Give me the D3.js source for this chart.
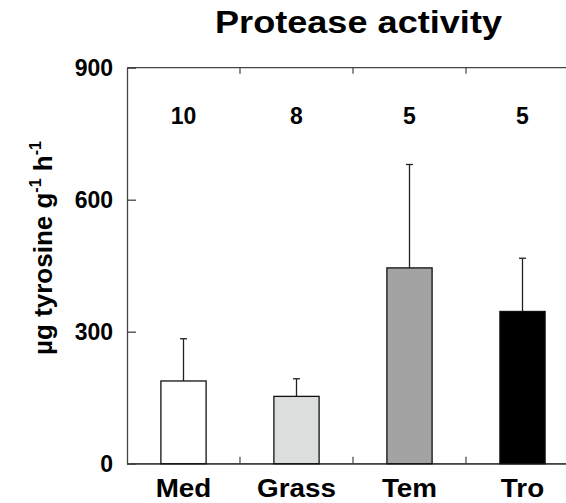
<!DOCTYPE html>
<html>
<head>
<meta charset="utf-8">
<script src="https://cdn.jsdelivr.net/npm/d3@7"></script>
<style>
  body { margin: 0; background: #fff; }
  svg { display: block; font-family: "Liberation Sans", Arial, Helvetica, sans-serif; }
</style>
</head>
<body>
<div id="chart-area"></div>
<script>
// data
var categories = ["Med", "Grass", "Tem", "Tro"];
var means = [188, 153, 445, 346];
var errors = [96, 40, 235, 121];
var sampleSizes = [10, 8, 5, 5];
var barColors = ["#ffffff", "#dcdedd", "#a3a3a3", "#000000"];
var yTicks = [0, 300, 600, 900];

var width = 566, height = 503;
var plot = { left: 127, right: 579, top: 67.7, bottom: 463.7 };

var svg = d3.select("#chart-area")
  .append("svg")
  .attr("width", width)
  .attr("height", height);

// Scales
var x = d3.scaleBand()
  .domain(categories)
  .range([plot.left, plot.right])
  .paddingInner(0.6)
  .paddingOuter(0.3);

var y = d3.scaleLinear()
  .domain([0, 900])
  .range([plot.bottom, plot.top]);

var axisColor = "#444";

// Title
svg.append("text")
  .attr("x", 358.5)
  .attr("y", 33.3)
  .attr("text-anchor", "middle")
  .attr("font-size", "32px")
  .attr("font-weight", "bold")
  .attr("textLength", 287)
  .attr("lengthAdjust", "spacingAndGlyphs")
  .text("Protease activity");

// Y axis
var yAxisGroup = svg.append("g")
  .attr("transform", "translate(" + plot.left + ",0)")
  .call(d3.axisLeft(y)
    .tickValues(yTicks)
    .tickSizeInner(-9)
    .tickSizeOuter(0)
    .tickPadding(14));

yAxisGroup.selectAll("text")
  .attr("font-size", "23px")
  .attr("font-weight", "bold")
  .attr("font-family", "inherit")
  .attr("fill", "#000");

// Bottom axis (labels only)
var xAxisGroup = svg.append("g")
  .attr("transform", "translate(0," + plot.bottom + ")")
  .call(d3.axisBottom(x).tickSize(0).tickPadding(15));

xAxisGroup.selectAll("text")
  .attr("font-size", "26px")
  .attr("font-weight", "bold")
  .attr("font-family", "inherit")
  .attr("fill", "#000")
  .each(function() {
    var len = this.getComputedTextLength();
    d3.select(this)
      .attr("textLength", len * 1.07)
      .attr("lengthAdjust", "spacingAndGlyphs");
  });

svg.selectAll(".domain, .tick line")
  .attr("stroke", axisColor)
  .attr("stroke-width", 1.3);

// frame lines top and bottom
svg.append("line")
  .attr("x1", plot.left).attr("x2", plot.right)
  .attr("y1", y(900)).attr("y2", y(900))
  .attr("stroke", axisColor).attr("stroke-width", 1.3);

svg.append("line")
  .attr("x1", plot.left).attr("x2", plot.right)
  .attr("y1", y(0)).attr("y2", y(0))
  .attr("stroke", axisColor).attr("stroke-width", 1.3);

// boundary ticks between categories
var boundaries = categories.slice(0, -1).map(function(c) {
  return x(c) + x.bandwidth() + x.step() * x.paddingInner() / 2;
});

svg.selectAll(".btick-bottom")
  .data(boundaries)
  .enter()
  .append("line")
  .attr("x1", function(d) { return d; })
  .attr("x2", function(d) { return d; })
  .attr("y1", y(0))
  .attr("y2", y(0) - 7)
  .attr("stroke", axisColor)
  .attr("stroke-width", 1.2);

svg.selectAll(".btick-top")
  .data(boundaries)
  .enter()
  .append("line")
  .attr("x1", function(d) { return d; })
  .attr("x2", function(d) { return d; })
  .attr("y1", y(900))
  .attr("y2", y(900) + 6)
  .attr("stroke", axisColor)
  .attr("stroke-width", 1.2);

// Y label
var yLabel = svg.append("text")
  .attr("transform", "translate(52,248) rotate(-90)")
  .attr("text-anchor", "middle")
  .attr("font-size", "26px")
  .attr("font-weight", "bold");

yLabel.append("tspan").text("\u00b5g tyrosine g");
yLabel.append("tspan").attr("font-size", "16px").attr("dy", -11).text("-1");
yLabel.append("tspan").attr("dy", 11).text(" h");
yLabel.append("tspan").attr("font-size", "16px").attr("dy", -11).text("-1");

// Error bars
var err = svg.selectAll(".err")
  .data(categories)
  .enter()
  .append("g");

err.append("line")
  .attr("x1", function(d) { return x(d) + x.bandwidth() / 2; })
  .attr("x2", function(d) { return x(d) + x.bandwidth() / 2; })
  .attr("y1", function(d, i) { return y(means[i]); })
  .attr("y2", function(d, i) { return y(means[i] + errors[i]); })
  .attr("stroke", "#222")
  .attr("stroke-width", 1.3);

err.append("line")
  .attr("x1", function(d) { return x(d) + x.bandwidth() / 2 - 3.5; })
  .attr("x2", function(d) { return x(d) + x.bandwidth() / 2 + 3.5; })
  .attr("y1", function(d, i) { return y(means[i] + errors[i]); })
  .attr("y2", function(d, i) { return y(means[i] + errors[i]); })
  .attr("stroke", "#222")
  .attr("stroke-width", 1.3);

// Bars
svg.selectAll("rect")
  .data(categories)
  .enter()
  .append("rect")
  .attr("x", function(d) { return x(d); })
  .attr("y", function(d, i) { return y(means[i]); })
  .attr("width", x.bandwidth())
  .attr("height", function(d, i) { return y(0) - y(means[i]); })
  .attr("fill", function(d, i) { return barColors[i]; })
  .attr("stroke", "#111")
  .attr("stroke-width", 1.3);

// sample sizes
svg.selectAll(".n-label")
  .data(categories)
  .enter()
  .append("text")
  .attr("x", function(d) { return x(d) + x.bandwidth() / 2; })
  .attr("y", 124.3)
  .attr("text-anchor", "middle")
  .attr("font-size", "23px")
  .attr("font-weight", "bold")
  .text(function(d, i) { return sampleSizes[i]; });
</script>
</body>
</html>
